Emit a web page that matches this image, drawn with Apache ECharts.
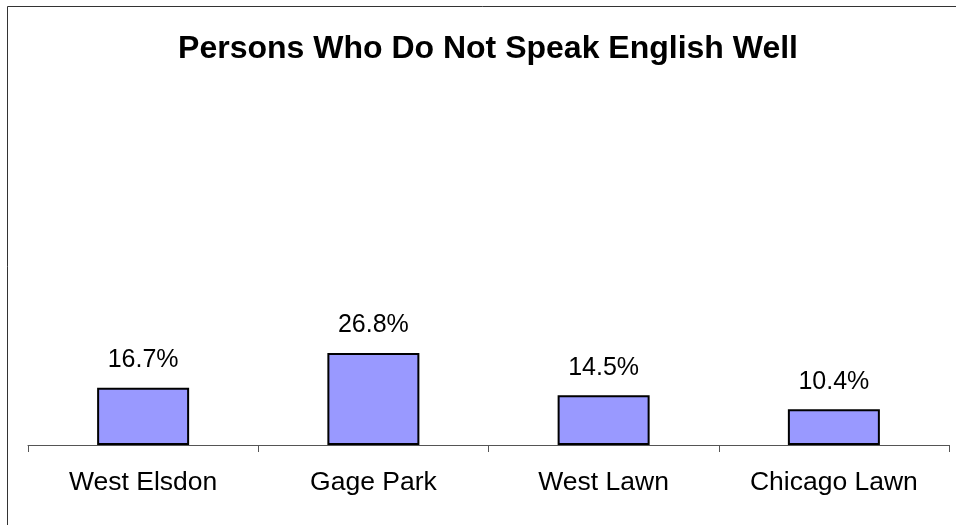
<!DOCTYPE html>
<html><head><meta charset="utf-8">
<script src="https://cdn.jsdelivr.net/npm/echarts@6/dist/echarts.min.js"></script>
<style>html,body{margin:0;padding:0;background:#fff}#c{width:956px;height:525px}</style>
</head><body><div id="c"></div>
<script>
const categories = ['West Elsdon', 'Gage Park', 'West Lawn', 'Chicago Lawn'];
const values = [16.7, 26.8, 14.5, 10.4];
const chartTitle = 'Persons Who Do Not Speak English Well';

const FF = 'Liberation Sans, Arial, sans-serif';
const chart = echarts.init(document.getElementById('c'), null, {renderer: 'canvas'});
chart.setOption({
  animation: false,
  backgroundColor: '#fff',
  textStyle: {fontFamily: FF},
  title: {
    text: chartTitle, left: 483, textAlign: 'center', top: 28,
    textStyle: {fontSize: 32, fontWeight: 'bold', color: '#000', fontFamily: FF}
  },
  graphic: [{
    type: 'rect', shape: {x: 7.5, y: 6.5, width: 1000, height: 600},
    style: {fill: 'none', stroke: '#333', lineWidth: 1}, silent: true, z: -1
  }],
  grid: {left: 28, right: 7, top: 102, bottom: 80, containLabel: false},
  xAxis: {
    type: 'category', data: categories,
    axisLine: {show: true, lineStyle: {color: '#555', width: 1}},
    axisTick: {show: true, alignWithLabel: false, length: 7, lineStyle: {color: '#555'}},
    axisLabel: {fontSize: 26.5, color: '#000', margin: 24, fontFamily: FF}
  },
  yAxis: {type: 'value', min: 0, max: 100, show: false, splitLine: {show: false}},
  series: [{
    type: 'bar', data: values, barWidth: 92,
    itemStyle: {color: '#9999FF', borderColor: '#000', borderWidth: 2},
    label: {show: true, position: 'top', distance: 15, fontSize: 25, color: '#000',
      fontFamily: FF,
      formatter: p => p.value.toFixed(1) + '%'}
  }]
});
</script></body></html>
